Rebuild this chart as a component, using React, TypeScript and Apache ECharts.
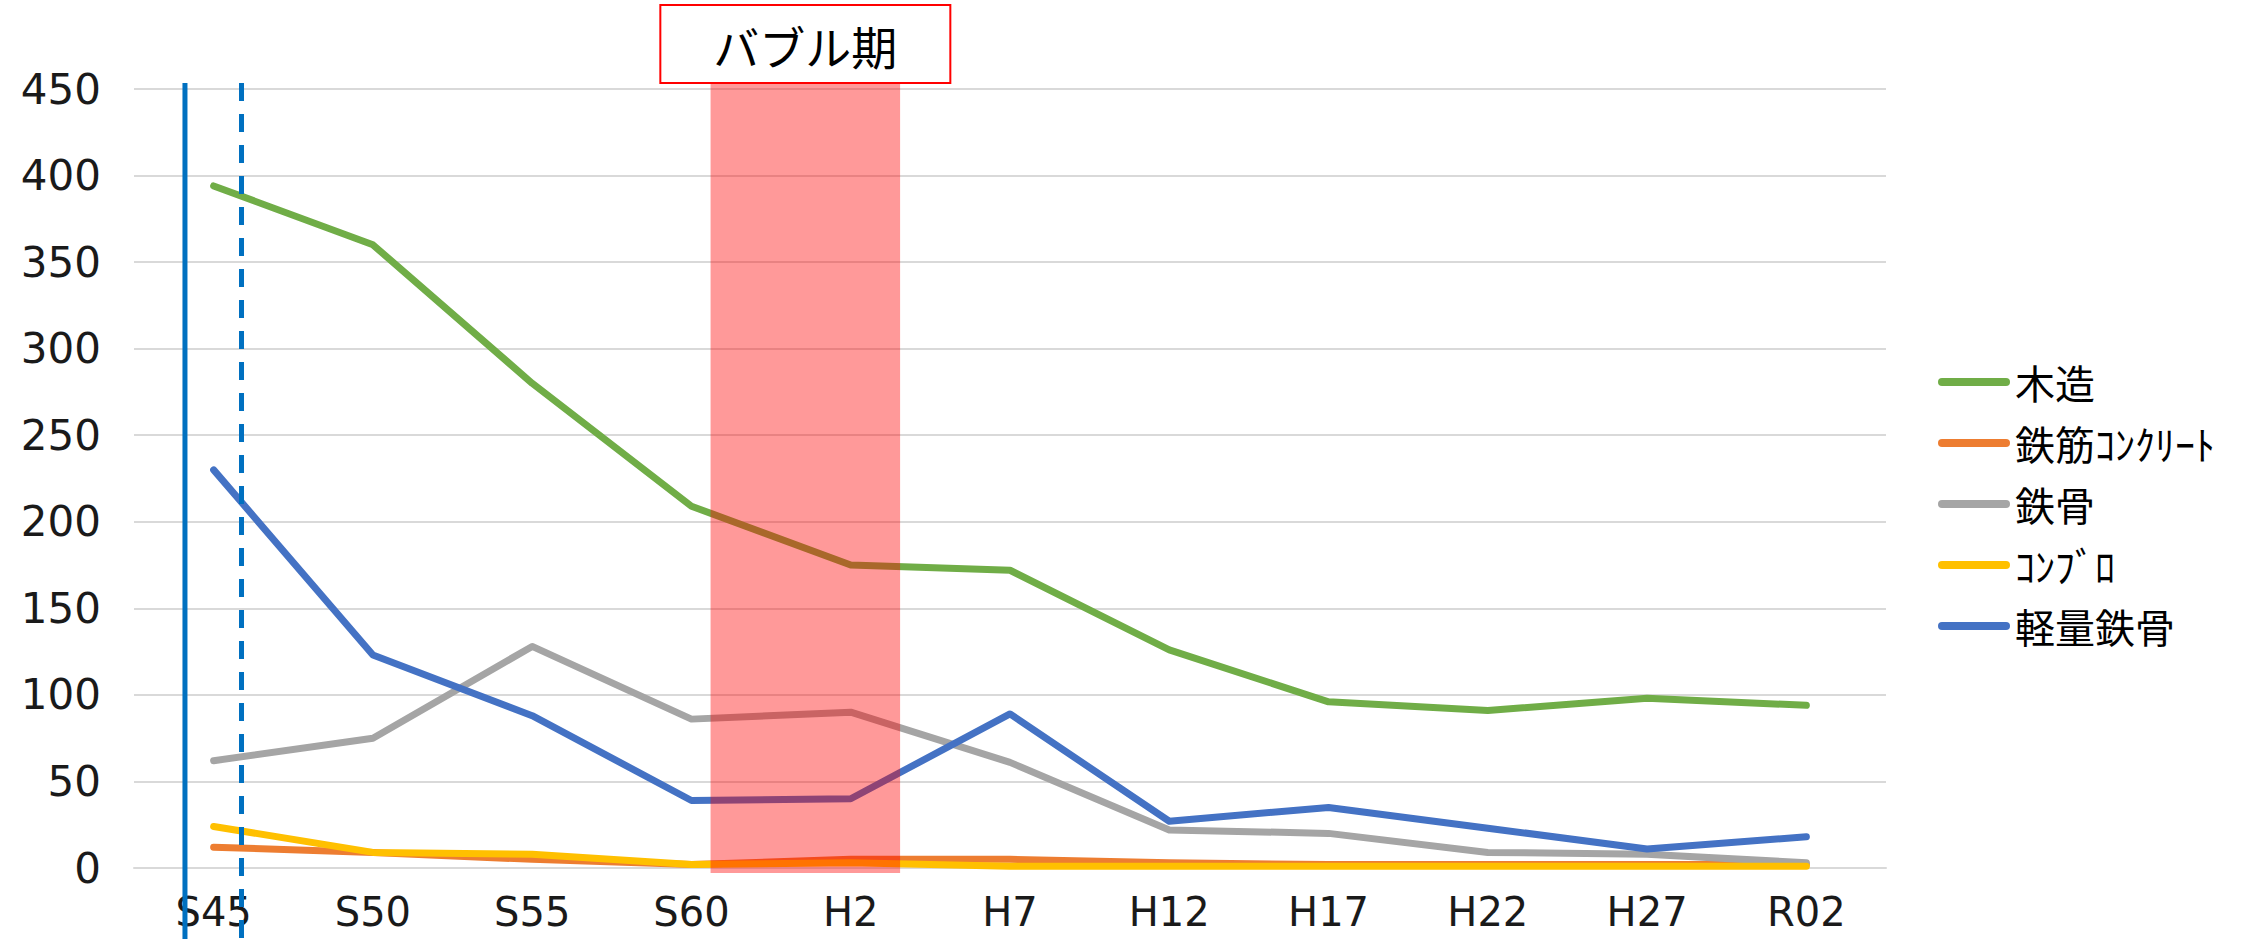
import React, { useEffect, useRef } from 'react';
import * as echarts from 'echarts';

const categories = ['S45', 'S50', 'S55', 'S60', 'H2', 'H7', 'H12', 'H17', 'H22', 'H27', 'R02'];
const wood = [394, 360, 280, 209, 175, 172, 126, 96, 91, 98, 94];
const reinforcedConcrete = [12, 9, 5, 2, 5, 5, 3, 2, 2, 2, 2];
const steel = [62, 75, 128, 86, 90, 61, 22, 20, 9, 8, 3];
const concreteBlock = [24, 9, 8, 2, 3, 1, 1, 1, 1, 1, 1];
const lightSteel = [230, 123, 88, 39, 40, 89, 27, 35, 23, 11, 18];

const seriesNames = ['木造', '鉄筋ｺﾝｸﾘｰﾄ', '鉄骨', 'ｺﾝﾌﾞﾛ', '軽量鉄骨'];
const seriesValues = [wood, reinforcedConcrete, steel, concreteBlock, lightSteel];
const seriesColors = ['#70AD47', '#ED7D31', '#A5A5A5', '#FFC000', '#4472C4'];

const yMin = 0;
const yMax = 450;
const yInterval = 50;
const bandLabel = 'バブル期';

export default function App() {
  const ref = useRef<HTMLDivElement>(null);

  useEffect(() => {
    if (!ref.current) return;
    const chart = echarts.init(ref.current, undefined, { renderer: 'svg' });
    chart.setOption({
      animation: false,
      backgroundColor: '#ffffff',
      grid: { left: 134, right: 368, top: 89, bottom: 71, containLabel: false },
      xAxis: {
        type: 'category',
        data: categories,
        boundaryGap: true,
        axisLine: { show: true, lineStyle: { color: '#D9D9D9', width: 2 } },
        axisTick: { show: false },
        axisLabel: {
          margin: 24,
          fontSize: 40,
          lineHeight: 40,
          fontFamily: 'DejaVu Sans',
          color: '#1a1a1a',
        },
      },
      yAxis: {
        type: 'value',
        min: yMin,
        max: yMax,
        interval: yInterval,
        axisLine: { show: false },
        axisTick: { show: false },
        splitLine: { lineStyle: { color: '#D9D9D9', width: 2 } },
        axisLabel: {
          margin: 33,
          fontSize: 42,
          fontFamily: 'DejaVu Sans',
          color: '#1a1a1a',
        },
      },
      legend: {
        orient: 'vertical',
        left: 1938,
        top: 362,
        padding: 0,
        itemWidth: 72,
        itemHeight: 8,
        itemGap: 21,
        icon: 'path://M4,0 L68,0 A4,4 0 0 1 68,8 L4,8 A4,4 0 0 1 4,0 Z',
        textStyle: {
          fontSize: 40,
          lineHeight: 40,
          fontFamily: 'Noto Sans CJK JP',
          color: '#000000',
        },
        data: seriesNames,
      },
      series: seriesNames.map((name, i) => ({
        name,
        type: 'line',
        data: seriesValues[i],
        color: seriesColors[i],
        symbol: 'none',
        showSymbol: false,
        lineStyle: { width: 7, color: seriesColors[i], cap: 'round', join: 'round' },
        z: 2 + i,
      })),
    });

    const px = (c: string) => chart.convertToPixel({ xAxisIndex: 0 }, c) as number;
    const py = (v: number) => chart.convertToPixel({ yAxisIndex: 0 }, v) as number;
    const x0 = px(categories[0]);
    const step = px(categories[1]) - x0;
    const yTop = py(yMax);
    const yBot = py(yMin);
    const bandL = px('S60') + 0.12 * step;
    const bandR = px('H2') + 0.31 * step;
    const bandC = (bandL + bandR) / 2;
    const solidX = x0 - 0.18 * step;
    const dashX = x0 + 0.175 * step;

    chart.setOption({
      graphic: [
        {
          type: 'rect',
          z: 100,
          shape: { x: bandL, y: yTop - 9, width: bandR - bandL, height: yBot - yTop + 14 },
          style: { fill: 'rgba(255,0,0,0.4)' },
        },
        {
          type: 'line',
          z: 101,
          shape: { x1: solidX, y1: yTop - 6, x2: solidX, y2: 939 },
          style: { stroke: '#0070C0', lineWidth: 5 },
        },
        {
          type: 'line',
          z: 101,
          shape: { x1: dashX, y1: yTop - 6, x2: dashX, y2: 939 },
          style: { stroke: '#0070C0', lineWidth: 5, lineDash: [18, 13] },
        },
        {
          type: 'rect',
          z: 102,
          shape: { x: bandC - 145, y: 5, width: 290, height: 78 },
          style: { fill: '#ffffff', stroke: '#FF0000', lineWidth: 2 },
        },
        {
          type: 'text',
          z: 103,
          x: bandC,
          y: 45,
          style: {
            text: bandLabel,
            fill: '#000000',
            fontSize: 46,
            fontFamily: 'Noto Sans CJK JP',
            align: 'center',
            verticalAlign: 'middle',
          },
        },
      ],
    });

    return () => chart.dispose();
  }, []);

  return (
    <div
      ref={ref}
      style={{ position: 'absolute', left: 0, top: 0, width: 2254, height: 939, background: '#fff' }}
    />
  );
}
